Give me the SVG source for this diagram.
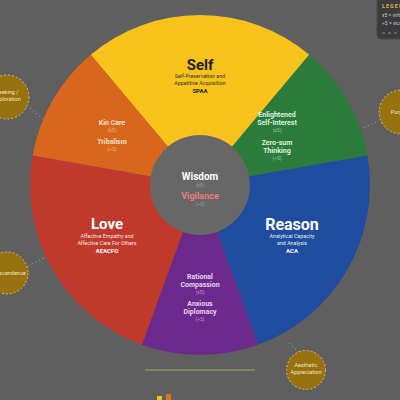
<svg xmlns="http://www.w3.org/2000/svg" width="400" height="400" viewBox="0 0 400 400">
<style>
text{font-family:Roboto,"Liberation Sans",sans-serif;text-anchor:middle}
.big{font-size:15px;font-weight:bold}
.desc{font-size:5.3px}
.abbr{font-size:6px;font-weight:bold}
.sub{font-size:7px;font-weight:bold}
.mult{font-size:5px;opacity:.6}
.sat{fill:#97720f;stroke:#d8bd72;stroke-width:1;stroke-dasharray:2 2}
.sattxt{font-size:5.5px;fill:#f3e6c4}
.conn{stroke:#9a9a9a;stroke-width:1;stroke-dasharray:1.5 2.5;fill:none}
</style>
<rect width="400" height="400" fill="#5f5f5f"/>
<g id="connectors">
<line class="conn" x1="30" y1="108" x2="44" y2="120"/>
<line class="conn" x1="28" y1="266" x2="46" y2="257"/>
<line class="conn" x1="364" y1="128" x2="378" y2="121"/>
<line class="conn" x1="289" y1="343" x2="300" y2="353"/>
</g>
<g id="self"><path d="M200,185 L90.73,54.78 A170,170 0 0 1 309.27,54.78 Z" fill="#f7c31c"/>
<text class="big" x="200" y="70" fill="#222">Self</text>
<text class="desc" x="200" y="78" fill="#333">Self-Preservation and</text>
<text class="desc" x="200" y="85" fill="#333">Appetitive Acquisition</text>
<text class="abbr" x="200" y="93" fill="#222">SPAA</text></g>
<g id="enlightened"><path d="M200,185 L309.27,54.78 A170,170 0 0 1 367.42,155.48 Z" fill="#2b7c3b"/>
<text class="sub" x="277" y="117" fill="#dff2df">Enlightened</text>
<text class="sub" x="277" y="125" fill="#dff2df">Self-Interest</text>
<text class="mult" x="277" y="131.5" fill="#dff2df">(x5)</text>
<text class="sub" x="277" y="145" fill="#dff2df">Zero-sum</text>
<text class="sub" x="277" y="153" fill="#dff2df">Thinking</text>
<text class="mult" x="277" y="159.5" fill="#dff2df">(÷5)</text></g>
<g id="reason"><path d="M200,185 L367.42,155.48 A170,170 0 0 1 258.14,344.75 Z" fill="#1f4c9e"/>
<text class="big" x="292" y="230" fill="#fff" style="font-size:16px">Reason</text>
<text class="desc" x="292" y="238" fill="#e8ecf6">Analytical Capacity</text>
<text class="desc" x="292" y="245" fill="#e8ecf6">and Analysis</text>
<text class="abbr" x="292" y="253" fill="#fff">ACA</text></g>
<g id="compassion"><path d="M200,185 L258.14,344.75 A170,170 0 0 1 141.86,344.75 Z" fill="#6b2a8b"/>
<text class="sub" x="200" y="279" fill="#e6d2f2">Rational</text>
<text class="sub" x="200" y="287" fill="#e6d2f2">Compassion</text>
<text class="mult" x="200" y="294" fill="#e6d2f2">(x5)</text>
<text class="sub" x="200" y="306" fill="#e6d2f2">Anxious</text>
<text class="sub" x="200" y="314" fill="#e6d2f2">Diplomacy</text>
<text class="mult" x="200" y="321" fill="#e6d2f2">(÷5)</text></g>
<g id="love"><path d="M200,185 L141.86,344.75 A170,170 0 0 1 32.58,155.48 Z" fill="#c0392d"/>
<text class="big" x="107" y="229" fill="#fff">Love</text>
<text class="desc" x="107" y="238" fill="#f6e3e0">Affective Empathy and</text>
<text class="desc" x="107" y="245" fill="#f6e3e0">Affective Care For Others</text>
<text class="abbr" x="107" y="253" fill="#fff">AEACFO</text></g>
<g id="kincare"><path d="M200,185 L32.58,155.48 A170,170 0 0 1 90.73,54.78 Z" fill="#d9661d"/>
<text class="sub" x="112" y="125" fill="#f7e3c8">Kin Care</text>
<text class="mult" x="112" y="131.5" fill="#f7e3c8">(x5)</text>
<text class="sub" x="112" y="144" fill="#f7e3c8">Tribalism</text>
<text class="mult" x="112" y="150.5" fill="#f7e3c8">(÷5)</text></g>
<g id="wisdom"><circle cx="200" cy="185" r="50" fill="#676767"/>
<text x="200" y="180" fill="#fff" style="font-size:10px;font-weight:bold">Wisdom</text>
<text class="mult" x="200" y="187" fill="#bbb">(x5)</text>
<text x="200" y="199" fill="#e57f7f" style="font-size:9px;font-weight:bold">Vigilance</text>
<text class="mult" x="200" y="206" fill="#bbb">(÷5)</text></g>
<g id="seeking"><circle class="sat" cx="7" cy="97" r="22"/>
<text class="sattxt" x="7" y="94">Seeking /</text>
<text class="sattxt" x="7" y="101">Exploration</text></g>
<g id="transcendence"><circle class="sat" cx="7" cy="273" r="21"/>
<text class="sattxt" x="7" y="275">Transcendence</text></g>
<g id="purpose"><circle class="sat" cx="401" cy="112" r="22"/>
<text class="sattxt" x="401" y="114">Purpose</text></g>
<g id="aesthetic"><circle class="sat" cx="306" cy="370" r="19.5"/>
<text class="sattxt" x="306" y="367">Aesthetic</text>
<text class="sattxt" x="306" y="374">Appreciation</text></g>
<g id="legend"><rect x="377" y="-6" width="40" height="45" rx="4" fill="#3b3b3b" stroke="#4a4a4a"/>
<text x="382" y="8" fill="#d9b84c" style="font-size:5.5px;font-weight:bold;text-anchor:start;letter-spacing:1px">LEGEND</text>
<text x="382" y="17" fill="#ccc" style="font-size:5px;text-anchor:start">x5 = virtue</text>
<text x="382" y="25" fill="#ccc" style="font-size:5px;text-anchor:start">÷5 = vice</text>
<line x1="382" y1="33" x2="400" y2="33" stroke="#888" stroke-width="1" stroke-dasharray="3 3"/></g>
<line x1="145" y1="370" x2="255" y2="370" stroke="#b9a06c" stroke-width="1"/>
<rect x="157" y="396" width="5" height="4" fill="#f0c020"/>
<rect x="166" y="394" width="5" height="6" fill="#e07020"/>
</svg>
